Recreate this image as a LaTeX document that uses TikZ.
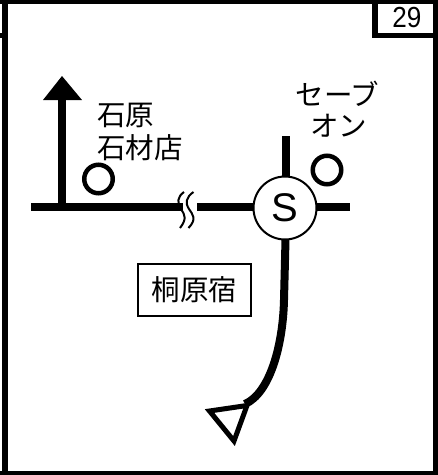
\documentclass[tikz,border=0pt]{standalone}
\usepackage{fontspec}
\setmainfont{Liberation Sans}
\newfontfamily\cjk{Noto Sans CJK JP}
\tikzset{
  road/.style={line width=8pt,black},
  thinring/.style={circle,draw,line width=2pt,fill=white,minimum size=63pt,inner sep=0pt},
  ring/.style={circle,draw,line width=4.5pt,minimum size=28.5pt,inner sep=0pt},
  lbl/.style={inner sep=0pt,font=\cjk\fontsize{28.5}{28.5}\selectfont},
  wave/.style={line width=2pt,black}
}
\begin{document}
\begin{tikzpicture}[x=1pt,y=-1pt]
\useasboundingbox (0,0) rectangle (438,475);
% frame
\fill (0,0) rectangle (438,4);
\fill (2,4) rectangle (8,475);
\fill (0,33) rectangle (2,38);
\fill (0,471) rectangle (438,475);
\fill (433,4) rectangle (438,475);
\fill (372,4) rectangle (378,38);
\fill (378,33) rectangle (438,38);
\node[inner sep=0pt,font=\fontsize{29}{29}\selectfont,xscale=0.9] (num) at (407,17.5) {29};
% arrow
\coordinate (junction) at (62,206.5);
\coordinate (tip) at (62,76);
\draw[road] (junction) -- (62,100);
\fill (tip) -- (82,100) -- (43,100) -- cycle;
% roads
\coordinate (westend) at (31,206.5);
\coordinate (breakL) at (183,206.5);
\coordinate (breakR) at (197,206.5);
\coordinate (eastend) at (350,206.5);
\coordinate (northend) at (285.5,136);
\coordinate (routeend) at (245,404);
\draw[road] (westend) -- (breakL);
\draw[road] (breakR) -- (eastend);
\draw[road] (northend) -- (285.5,240);
\draw[road] (285.5,240) -- (284,300) .. controls (283,345) and (270,393) .. (routeend);
\node[thinring] (S) at (285,208) {};
\node[font=\fontsize{40}{40}\selectfont,inner sep=0pt] at (S) {S};
% waves
\draw[wave] (184,192) .. controls (177,197) and (177,203) .. (181,209) .. controls (185,215) and (187,219) .. (180,228);
\draw[wave] (193.5,192) .. controls (186,197) and (185,203) .. (189,209) .. controls (193,215) and (197,219) .. (188.5,228);
% rings and labels
\node[ring] (r1) at (98.5,179) {};
\node[ring] (r2) at (327,170) {};
\node[lbl,anchor=west] (t1) at (97,115) {石原};
\node[lbl,anchor=west] (t2) at (97,148) {石材店};
\node[lbl] (t3) at (337.5,94) {セーブ};
\node[lbl] (t4) at (338.5,126) {オン};
\node[draw,line width=1.5pt,minimum width=113pt,minimum height=52pt,inner sep=0pt,font=\cjk\fontsize{28.5}{28.5}\selectfont] (town) at (194.5,290) {桐原宿};
% route end marker
\draw[line width=5pt,miter limit=10,fill=white] (209.5,411) -- (247,405.5) -- (234,441) -- cycle;
\end{tikzpicture}
\end{document}
